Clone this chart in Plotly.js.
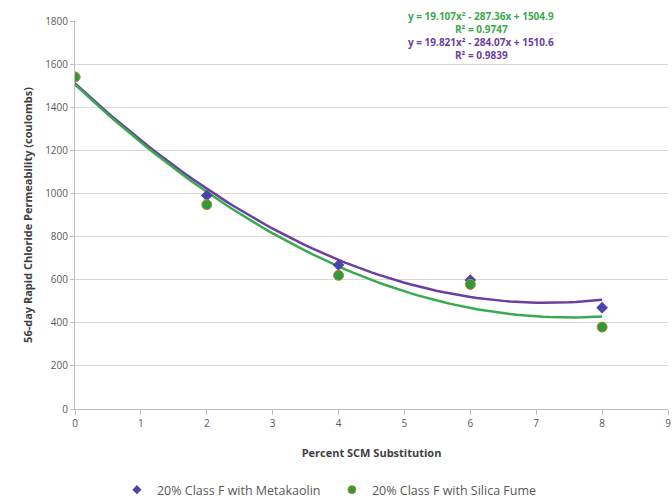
<!DOCTYPE html>
<html>
<head>
<meta charset="utf-8">
<script src="https://cdn.plot.ly/plotly-3.0.1.min.js"></script>
<style>html,body{margin:0;padding:0;background:#fff;}#chart{width:672px;height:500px;}</style>
</head>
<body>
<div id="chart"></div>
<script>
// Data
const xPercent = [0, 2, 4, 6, 8];
const metakaolin = [1540, 990, 668, 598, 470];
const silicaFume = [1540, 948, 620, 578, 380];
// Trendline coefficients as printed on the chart: [a, b, c] for y = a x^2 + b x + c
const metakaolinFit = [19.821, -284.07, 1510.6];
const silicaFumeFit = [19.107, -287.36, 1504.9];
const xTicks = [0, 1, 2, 3, 4, 5, 6, 7, 8, 9];
const yTicks = [0, 200, 400, 600, 800, 1000, 1200, 1400, 1600, 1800];
const seriesNames = ['20% Class F with Metakaolin', '20% Class F with Silica Fume'];

function curve(c) {
  const xs = [], ys = [];
  for (let i = 0; i <= 80; i++) { const x = i / 10; xs.push(x); ys.push(c[0]*x*x + c[1]*x + c[2]); }
  return {xs, ys};
}
const mk = curve(metakaolinFit), sf = curve(silicaFumeFit);

const purple = '#6b3fa0', green = '#3aaa4e';
const mkMarker = {symbol: 'diamond', color: '#4a44a8'};
const sfMarker = {symbol: 'circle', color: '#2f9a3c', line: {color: '#b9873a', width: 1}};
const traces = [
  {x: mk.xs, y: mk.ys, mode: 'lines', line: {color: purple, width: 2.5}, showlegend: false, hoverinfo: 'skip'},
  {x: sf.xs, y: sf.ys, mode: 'lines', line: {color: green, width: 2.5}, showlegend: false, hoverinfo: 'skip'},
  {x: xPercent, y: metakaolin, mode: 'markers', showlegend: false,
   marker: Object.assign({size: 9}, mkMarker)},
  {x: xPercent, y: silicaFume, mode: 'markers', showlegend: false,
   marker: Object.assign({size: 10}, sfMarker)},
  {x: [null], y: [null], mode: 'markers', name: seriesNames[0], marker: Object.assign({size: 7}, mkMarker)},
  {x: [null], y: [null], mode: 'markers', name: seriesNames[1], marker: Object.assign({size: 8}, sfMarker)}
];

const f = 'Open Sans, Liberation Sans, sans-serif';
const layout = {
  width: 672, height: 500,
  margin: {l: 75, r: 4, t: 21, b: 91},
  paper_bgcolor: '#fff', plot_bgcolor: '#fff',
  font: {family: f, size: 10, color: '#595959'},
  xaxis: {range: [0, 9], tickvals: xTicks, ticktext: xTicks.map(String),
    showgrid: false, zeroline: false, showline: true, linecolor: '#bfbfbf',
    ticks: 'outside', ticklen: 5, tickcolor: '#bfbfbf', tickfont: {size: 10, color: '#595959'},
    title: {text: '<b>Percent SCM Substitution</b>', font: {size: 11, color: '#404040'}, standoff: 20}},
  yaxis: {range: [0, 1800], tickvals: yTicks, ticktext: yTicks.map(String),
    showgrid: true, gridcolor: '#d9d9d9', zeroline: false, showline: true, linecolor: '#bfbfbf',
    ticks: 'outside', ticklen: 4, tickcolor: '#bfbfbf', tickfont: {size: 10, color: '#595959'},
    title: {text: '<b>56-day Rapid Chloride Permeability (coulombs)</b>', font: {size: 11, color: '#404040'}, standoff: 10}},
  legend: {orientation: 'h', xref: 'container', yref: 'container', x: 0.174, xanchor: 'left', y: 0.02, yanchor: 'middle',
    font: {size: 12.5, color: '#595959'}, itemwidth: 30, entrywidth: 170, tracegroupgap: 0},
  annotations: [
    {xref: 'paper', yref: 'paper', x: 0.685, y: 1.035, xanchor: 'center', showarrow: false,
     text: '<b>y = 19.107x² - 287.36x + 1504.9</b>', font: {size: 10, color: green}},
    {xref: 'paper', yref: 'paper', x: 0.685, y: 1.002, xanchor: 'center', showarrow: false,
     text: '<b>R² = 0.9747</b>', font: {size: 10, color: green}},
    {xref: 'paper', yref: 'paper', x: 0.685, y: 0.969, xanchor: 'center', showarrow: false,
     text: '<b>y = 19.821x² - 284.07x + 1510.6</b>', font: {size: 10, color: purple}},
    {xref: 'paper', yref: 'paper', x: 0.685, y: 0.936, xanchor: 'center', showarrow: false,
     text: '<b>R² = 0.9839</b>', font: {size: 10, color: purple}}
  ]
};
Plotly.newPlot('chart', traces, layout, {displayModeBar: false, staticPlot: true});
</script>
</body>
</html>
